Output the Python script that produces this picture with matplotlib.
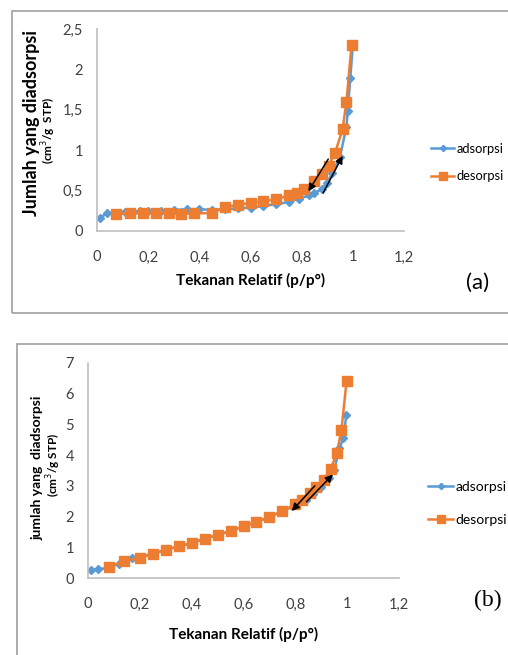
import matplotlib

matplotlib.use("Agg")
import matplotlib.pyplot as plt
from matplotlib.patches import Rectangle
from matplotlib.ticker import FuncFormatter

plt.rcParams["font.family"] = ["Lato", "DejaVu Sans"]

BLUE = "#5B9BD5"
ORANGE = "#ED7D31"
SPINE = "#BFBFBF"

# panel (a)
a_ads_x = [0.01, 0.04, 0.08, 0.11, 0.14, 0.17, 0.20, 0.25, 0.30, 0.35, 0.40,
           0.45, 0.50, 0.55, 0.60, 0.65, 0.70, 0.75, 0.79, 0.83, 0.85, 0.88,
           0.90, 0.92, 0.95, 0.975, 0.98, 0.99, 1.0]
a_ads_y = [0.16, 0.22, 0.22, 0.24, 0.24, 0.25, 0.25, 0.25, 0.26, 0.27, 0.27,
           0.26, 0.27, 0.28, 0.29, 0.31, 0.33, 0.36, 0.40, 0.44, 0.47, 0.52,
           0.60, 0.72, 0.92, 1.29, 1.48, 1.89, 2.30]
a_des_x = [0.995, 0.975, 0.96, 0.93, 0.905, 0.88, 0.85, 0.81, 0.78, 0.75, 0.70,
           0.65, 0.60, 0.55, 0.50, 0.45, 0.38, 0.33, 0.28, 0.23, 0.18, 0.13,
           0.075]
a_des_y = [2.30, 1.60, 1.26, 0.96, 0.81, 0.70, 0.62, 0.52, 0.47, 0.44, 0.39,
           0.37, 0.35, 0.32, 0.30, 0.22, 0.22, 0.21, 0.22, 0.22, 0.22, 0.22,
           0.21]
# arrows: (start, end) in data units
a_arrows = [((0.904, 0.89), (0.826, 0.49)), ((0.884, 0.47), (0.96, 0.93))]

# panel (b)
b_ads_x = [0.01, 0.04, 0.08, 0.12, 0.17, 0.20, 0.25, 0.30, 0.35, 0.40, 0.45,
           0.50, 0.55, 0.60, 0.65, 0.70, 0.75, 0.80, 0.84, 0.87, 0.90, 0.93,
           0.95, 0.97, 0.985, 0.997]
b_ads_y = [0.25, 0.29, 0.33, 0.47, 0.64, 0.68, 0.80, 0.92, 1.03, 1.14, 1.28,
           1.40, 1.53, 1.68, 1.82, 1.99, 2.17, 2.38, 2.55, 2.72, 2.97, 3.27,
           3.52, 4.22, 4.55, 5.32]
b_des_x = [0.998, 0.978, 0.96, 0.936, 0.91, 0.88, 0.855, 0.825, 0.80, 0.75,
           0.70, 0.65, 0.60, 0.55, 0.50, 0.45, 0.40, 0.35, 0.30, 0.25, 0.20,
           0.14, 0.08]
b_des_y = [6.43, 4.83, 4.06, 3.55, 3.19, 2.97, 2.76, 2.55, 2.40, 2.18, 1.99,
           1.83, 1.69, 1.53, 1.40, 1.28, 1.13, 1.03, 0.91, 0.79, 0.66, 0.54,
           0.36]
b_arrows = [((0.875, 3.0), (0.786, 2.18)), ((0.843, 2.48), (0.945, 3.37))]

x_ticks = [0, 0.2, 0.4, 0.6, 0.8, 1.0, 1.2]
a_y_ticks = [0, 0.5, 1.0, 1.5, 2.0, 2.5]
b_y_ticks = [0, 1, 2, 3, 4, 5, 6, 7]

W, H = 508, 655
fig = plt.figure(figsize=(W / 100, H / 100), dpi=100)


def px_axes(left, top, right, bottom):
    return fig.add_axes([left / W, 1 - bottom / H, (right - left) / W,
                         (bottom - top) / H])


def comma(v, _):
    s = f"{v:g}"
    return s.replace(".", ",")


def draw_panel(ax, ads_x, ads_y, des_x, des_y, arrows, yticks, ymax, lpad):
    ax.plot(ads_x, ads_y, color=BLUE, marker="D", markersize=4, lw=1.8,
            label="adsorpsi")
    ax.plot(des_x, des_y, color=ORANGE, marker="s", markersize=7, lw=1.8,
            label="desorpsi")
    for start, end in arrows:
        ax.annotate("", xy=end, xytext=start,
                    arrowprops=dict(arrowstyle="-|>", color="black", lw=1.1,
                                    mutation_scale=11, shrinkA=0, shrinkB=0))
    ax.set_xlim(0, 1.2)
    ax.set_ylim(0, ymax)
    ax.set_xticks(x_ticks)
    ax.set_yticks(yticks)
    ax.xaxis.set_major_formatter(FuncFormatter(comma))
    ax.yaxis.set_major_formatter(FuncFormatter(comma))
    ax.tick_params(length=0, labelsize=10.5, colors="#404040")
    ax.tick_params(axis="x", pad=14)
    ax.tick_params(axis="y", pad=10)
    for s in ("top", "right"):
        ax.spines[s].set_visible(False)
    for s in ("left", "bottom"):
        ax.spines[s].set_color(SPINE)
        ax.spines[s].set_linewidth(1.2)
    ax.set_xlabel("Tekanan Relatif (p/p°)", fontsize=11, fontweight="bold",
                  labelpad=lpad)


def add_legend(left, center_y, spacing, size):
    ax = fig.axes[-1]
    ax.legend(loc="center left", bbox_to_anchor=(left / W, 1 - center_y / H),
              bbox_transform=fig.transFigure, frameon=False, fontsize=size,
              handlelength=1.8, handletextpad=0.15, labelspacing=spacing,
              borderpad=0, borderaxespad=0, markerscale=0.8)


# frames around the panels
fig.patches.append(Rectangle((12 / W, 1 - 313 / H), 0.99, 302 / H,
                             transform=fig.transFigure, fill=False,
                             edgecolor="#A0A0A0", lw=1.2))
fig.patches.append(Rectangle((17 / W, -0.05), 0.99, 1 - 344 / H + 0.05,
                             transform=fig.transFigure, fill=False,
                             edgecolor="#A0A0A0", lw=1.2))

ax_a = px_axes(97, 29, 404, 231)
draw_panel(ax_a, a_ads_x, a_ads_y, a_des_x, a_des_y, a_arrows, a_y_ticks,
           2.5, 6)
add_legend(431, 162.5, 1.2, 9.3)
fig.text(32 / W, 1 - 123 / H, "Jumlah yang diadsorpsi", rotation=90,
         ha="center", va="center", fontsize=13, fontweight="bold")
fig.text(49 / W, 1 - 130 / H, "(cm$^3$/g  STP)", rotation=90,
         ha="center", va="center", fontsize=8.5, fontweight="bold")
fig.text(478 / W, 1 - 283 / H, "(a)", ha="center", va="center", fontsize=16)

ax_b = px_axes(88, 363, 399, 578)
draw_panel(ax_b, b_ads_x, b_ads_y, b_des_x, b_des_y, b_arrows, b_y_ticks,
           7, 11)
add_legend(428, 503.5, 1.5, 10)
fig.text(38 / W, 1 - 468 / H, "jumlah yang  diadsorpsi", rotation=90,
         ha="center", va="center", fontsize=10, fontweight="bold")
fig.text(54 / W, 1 - 465 / H, "(cm$^3$/g STP)", rotation=90,
         ha="center", va="center", fontsize=8.5, fontweight="bold")
fig.text(488 / W, 1 - 600 / H, "(b)", ha="center", va="center", fontsize=17,
         family=["Liberation Serif"])

fig.savefig("out.png", dpi=100)
